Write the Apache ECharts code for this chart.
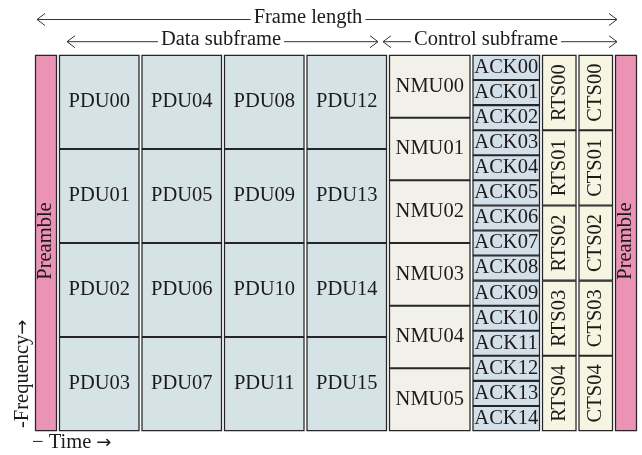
<!DOCTYPE html>
<html><head><meta charset="utf-8">
<script src="https://cdn.jsdelivr.net/npm/echarts@6/dist/echarts.min.js"></script>
<style>html,body{margin:0;padding:0;background:#fff}#c{width:642px;height:455px}</style>
</head><body><div id="c"></div>
<script>
// ---- data: time columns of the frame (durations in time units) ----
const columnKinds = ['preamble','pdu','pdu','pdu','pdu','nmu','ack','rts','cts','preamble'];
const columnDurations = [24, 82.5, 82.5, 82.5, 82.5, 83.5, 69.5, 36.5, 36.5, 24];
// labels of the frequency sub-bands in each column (top to bottom)
const preambleLabels = ['Preamble'];
const pduCol0 = ['PDU00','PDU01','PDU02','PDU03'];
const pduCol1 = ['PDU04','PDU05','PDU06','PDU07'];
const pduCol2 = ['PDU08','PDU09','PDU10','PDU11'];
const pduCol3 = ['PDU12','PDU13','PDU14','PDU15'];
const nmuLabels = ['NMU00','NMU01','NMU02','NMU03','NMU04','NMU05'];
const ackLabels = ['ACK00','ACK01','ACK02','ACK03','ACK04','ACK05','ACK06','ACK07','ACK08','ACK09','ACK10','ACK11','ACK12','ACK13','ACK14'];
const rtsLabels = ['RTS00','RTS01','RTS02','RTS03','RTS04'];
const ctsLabels = ['CTS00','CTS01','CTS02','CTS03','CTS04'];
const columnLabels = [preambleLabels, pduCol0, pduCol1, pduCol2, pduCol3, nmuLabels, ackLabels, rtsLabels, ctsLabels, preambleLabels];

// ---- annotation spans (time units) ----
const spanLabels = ['Frame length', 'Data subframe', 'Control subframe'];
const spanFrom = [3, 33, 349];
const spanTo = [583, 344, 583];
const spanTextAt = [274, 187, 452];
const spanLevel = [0, 1, 1];

// ---- styles ----
const fills = {preamble:'#eb93b4', pdu:'#d5e2e6', nmu:'#f1f1ea', ack:'#d3dfe9', rts:'#f6f5e1', cts:'#f6f5e1'};
const rotated = {preamble:true, rts:true, cts:true};
const FONT = '20.5px "Liberation Serif", "Times New Roman", serif';
const INK = '#1c1a1a';
const STROKE = '#262626';
const ARROW = {font:'18px "DejaVu Sans"', fill:INK};

// build cells
const cells = [];
let t = 0;
columnDurations.forEach((d, i) => {
  const labs = columnLabels[i];
  const n = labs.length;
  labs.forEach((lab, j) => {
    cells.push({value:[t, t + d, j / n, (j + 1) / n], label: lab, kind: columnKinds[i]});
  });
  t += d;
});
const total = t;

const spans = spanLabels.map((l, i) => ({value:[spanFrom[i], spanTo[i], spanTextAt[i], spanLevel[i]], label:l}));

const chart = echarts.init(document.getElementById('c'), null, {renderer:'canvas'});
chart.setOption({
  animation:false,
  grid:{left:34, right:4, top:55, bottom:24},
  xAxis:{type:'value', min:0, max:total, show:false},
  yAxis:{type:'value', min:0, max:1, inverse:true, show:false},
  series:[
    {
      type:'custom',
      clip:false,
      data:cells,
      encode:{x:[0,1], y:[2,3]},
      renderItem(params, api){
        const c = cells[params.dataIndex];
        const p0 = api.coord([api.value(0), api.value(2)]);
        const p1 = api.coord([api.value(1), api.value(3)]);
        const x = Math.min(p0[0], p1[0]) + 1.5, w = Math.abs(p1[0]-p0[0]) - 3;
        const y = Math.min(p0[1], p1[1]) + 0.4, h = Math.abs(p1[1]-p0[1]) - 0.8;
        let cy = y + h/2;
        if (c.kind === 'preamble') cy -= 2;
        return {type:'group', children:[
          {type:'rect', shape:{x, y, width:w, height:h}, style:{fill:fills[c.kind], stroke:STROKE, lineWidth:1.25}},
          {type:'text', x:x + w/2, y:cy, rotation: rotated[c.kind] ? Math.PI/2 : 0,
           style:{text:c.label, font:FONT, fill:INK, align:'center', verticalAlign:'middle'}}
        ]};
      }
    },
    {
      type:'custom',
      clip:false,
      data:spans,
      encode:{x:[0,1]},
      renderItem(params, api){
        const s = spans[params.dataIndex];
        const top = api.coord([0, 0])[1];
        const yy = top - (s.value[3] === 0 ? 35.5 : 13.3);
        const a = api.coord([api.value(0), 0])[0];
        const b = api.coord([api.value(1), 0])[0];
        const m = api.coord([api.value(2), 0])[0];
        const ls = {stroke:'#333', lineWidth:1, fill:null};
        return {type:'group', children:[
          {type:'line', shape:{x1:a, y1:yy, x2:b, y2:yy}, style:ls},
          {type:'polyline', shape:{points:[[a+8, yy-6],[a, yy],[a+8, yy+6]]}, style:ls},
          {type:'polyline', shape:{points:[[b-8, yy-6],[b, yy],[b-8, yy+6]]}, style:ls},
          {type:'text', x:m, y:yy - 2, style:{text:s.label, font:FONT, fill:INK, align:'center', verticalAlign:'middle', backgroundColor:'#fff', padding:[0,3]}}
        ]};
      }
    }
  ],
  graphic:[
    {type:'text', x:23, y:428, rotation:Math.PI/2, style:{text:'-Frequency{a|→}', rich:{a:ARROW}, font:FONT, fill:INK, align:'left', verticalAlign:'middle'}},
    {type:'text', x:32, y:443, style:{text:'− Time {a|→}', rich:{a:ARROW}, font:FONT, fill:INK, align:'left', verticalAlign:'middle'}}
  ]
});
</script></body></html>
